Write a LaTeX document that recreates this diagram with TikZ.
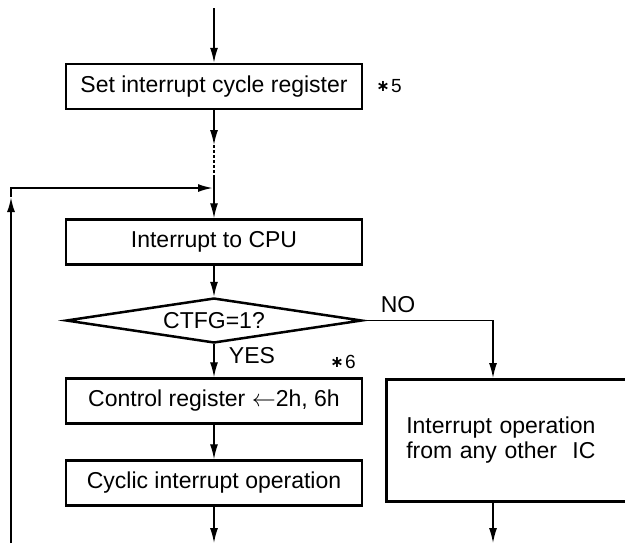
\documentclass[tikz,border=0pt]{standalone}
\usepackage{fontspec}
\setmainfont{Liberation Sans}
\newfontfamily\djv{DejaVu Sans}
\usetikzlibrary{arrows.meta,shapes.geometric}
\newcommand{\mystar}{{\djv\bfseries\fontsize{8}{8}\selectfont\raisebox{0.3pt}{∗}}}
\begin{document}
\begin{tikzpicture}[x=0.5pt,y=-0.5pt,
  every node/.style={font=\fontsize{11.5}{12.5}\selectfont},
  box/.style={draw,line width=1.25pt,minimum width=148pt,minimum height=22.5pt,inner sep=0pt},
  conn/.style={line width=0.7pt,-{Latex[length=7.5pt,width=4pt]}},
  plain/.style={line width=0.7pt},
  note/.style={font=\fontsize{9.5}{10}\selectfont,inner sep=0pt}]
\useasboundingbox (0,0) rectangle (625,543);
\node[box] (b1) at (214,86.5) {Set interrupt cycle register};
\node[note] (n5) at (389,86) {\mystar\kern0.6pt 5};
\node[box] (b2) at (214,242) {Interrupt to CPU};
\node[draw,line width=1.25pt,shape=diamond,aspect=6.58,minimum width=148pt,minimum height=22.5pt,inner sep=0pt] (dia) at (214,320.5) {CTFG=1?};
\node[box] (b3) at (214,401) {Control register $\leftarrow$2h, 6h};
\node[box] (b4) at (214,483) {Cyclic interrupt operation};
\node[draw,line width=1.25pt,anchor=north west,minimum height=61pt,text width=117.5pt,inner xsep=10pt,inner ysep=0pt,align=left] (other) at (385,378) {Interrupt operation\\from any other\ \ IC};
\node[inner sep=0pt] (no) at (398,305) {NO};
\node[inner sep=0pt] (yes) at (252,356) {YES};
\node[note] (n6) at (343,362) {\mystar\kern0.6pt 6};
% coordinates
\coordinate (top) at (214,8);
\coordinate (d1) at (214,145);
\coordinate (d2) at (214,178);
\coordinate (j) at (213,188);
\coordinate (l0) at (11,543);
\coordinate (l1) at (11,197);
\coordinate (l2) at (11,188);
\coordinate (nin) at (493,378);
\coordinate (nout) at (493,500);
\coordinate (bot1) at (214,543);
\coordinate (bot2) at (493,543);
% connectors
\draw[conn] (top) -- (b1.north);
\draw[conn] (b1.south) -- (d1);
\draw[plain,dash pattern=on 1.5pt off 1pt] (d1) -- (d2);
\draw[conn] (d2) -- (b2.north);
\draw[conn,line width=1pt] (l0) -- (l1);
\draw[conn,line width=1pt] (l1) -- (l2) -- (j);
\draw[conn] (b2.south) -- (dia.north);
\draw[conn] (dia.east) -| (nin);
\draw[conn] (dia.south) -- (b3.north);
\draw[conn] (b3.south) -- (b4.north);
\draw[conn] (b4.south) -- (bot1);
\draw[conn] (nout) -- (bot2);
\end{tikzpicture}
\end{document}
